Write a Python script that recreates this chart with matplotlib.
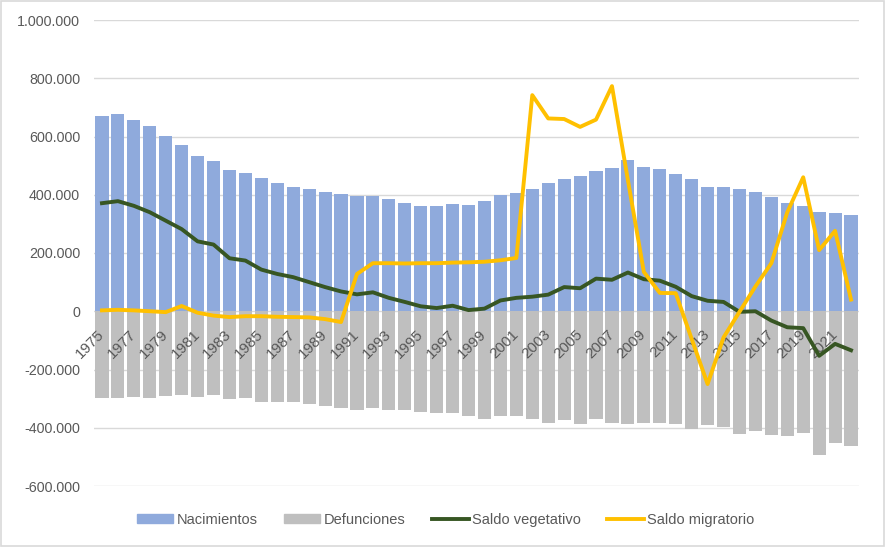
import matplotlib
matplotlib.use("Agg")
import matplotlib.pyplot as plt
from matplotlib.patches import Patch, Rectangle
from matplotlib.lines import Line2D
from matplotlib.ticker import FuncFormatter, MultipleLocator

years = list(range(1975, 2023))

nacimientos = [
    669000, 677000, 656000, 637000, 602000, 571000, 533000, 516000, 485000, 473000,
    456000, 439000, 427000, 419000, 408000, 401000, 396000, 397000, 386000, 370000,
    363000, 363000, 369000, 365000, 380000, 398000, 406000, 419000, 442000, 455000,
    466000, 483000, 493000, 520000, 495000, 487000, 472000, 455000, 426000, 428000,
    420000, 411000, 393000, 373000, 361000, 341000, 339000, 330000,
]

defunciones = [
    -298000, -299000, -294000, -297000, -291000, -289000, -293000, -287000, -303000, -299000,
    -313000, -310000, -310000, -319000, -325000, -333000, -338000, -332000, -340000, -338000,
    -346000, -351000, -350000, -361000, -371000, -360000, -360000, -369000, -385000, -372000,
    -387000, -371000, -385000, -386000, -385000, -382000, -388000, -403000, -390000, -396000,
    -423000, -411000, -425000, -428000, -419000, -494000, -451000, -464000,
]

saldo_vegetativo = [
    371000, 378000, 362000, 340000, 311000, 282000, 240000, 229000, 182000, 174000,
    143000, 128000, 117000, 100000, 83000, 68000, 58000, 65000, 46000, 32000,
    17000, 11000, 19000, 4000, 9000, 37000, 46000, 50000, 57000, 83000,
    79000, 112000, 108000, 133000, 110000, 105000, 84000, 52000, 36000, 32000,
    -2000, 0, -32000, -55000, -58000, -153000, -112000, -134000,
]

saldo_migratorio = [
    3000, 5000, 3000, 0, -3000, 18000, -5000, -15000, -20000, -17000,
    -17000, -19000, -20000, -21000, -27000, -37000, 128000, 165000, 165000, 164000,
    165000, 165000, 167000, 168000, 170000, 175000, 183000, 742000, 662000, 660000,
    633000, 658000, 773000, 450000, 135000, 63000, 62000, -95000, -250000, -90000,
    -2000, 85000, 165000, 340000, 460000, 210000, 276000, 40000,
]

c_nac = "#8FAADC"
c_def = "#BFBFBF"
c_veg = "#375623"
c_mig = "#FFC000"
c_txt = "#595959"
c_grid = "#D9D9D9"

plt.rcParams["font.family"] = ["Liberation Sans", "DejaVu Sans"]

fig = plt.figure(figsize=(8.86, 5.47), dpi=100)
ax = fig.add_axes([94 / 886, 1 - 486 / 547, 765 / 886, 466 / 547])

x = list(range(len(years)))
ax.set_ylim(-600000, 1000000)
ax.yaxis.set_major_locator(MultipleLocator(200000))
# gridlines drawn by hand so the year labels can sit above the bars
for v in range(-600000, 1000001, 200000):
    ax.axhline(v, color=c_grid, lw=1, zorder=0.5)

ax.bar(x, nacimientos, width=0.82, color=c_nac, zorder=1)
ax.bar(x, defunciones, width=0.82, color=c_def, zorder=1)
ax.plot(x, saldo_vegetativo, color=c_veg, lw=2.8, zorder=1.6, solid_joinstyle="round")
ax.plot(x, saldo_migratorio, color=c_mig, lw=2.8, zorder=1.7, solid_joinstyle="round")

ax.set_xlim(-0.5, len(years) - 0.5)
ax.yaxis.set_major_formatter(FuncFormatter(lambda v, p: f"{int(v):,}".replace(",", ".")))

for s in ["top", "right", "left"]:
    ax.spines[s].set_visible(False)
ax.spines["bottom"].set_position(("data", 0))
ax.spines["bottom"].set_visible(False)
ax.xaxis.set_zorder(1.5)  # above the bars, below the lines

ax.set_xticks(x[::2])
ax.set_xticklabels([str(y) for y in years[::2]], rotation=45, ha="right",
                   va="center", rotation_mode="anchor")
ax.tick_params(axis="x", length=0, pad=15, labelsize=11, labelcolor=c_txt)
ax.tick_params(axis="y", length=0, pad=10, labelsize=10.3, labelcolor=c_txt)

handles = [
    Patch(color=c_nac, label="Nacimientos"),
    Patch(color=c_def, label="Defunciones"),
    Line2D([], [], color=c_veg, lw=2.8, label="Saldo vegetativo"),
    Line2D([], [], color=c_mig, lw=2.8, label="Saldo migratorio"),
]
fig.legend(handles=handles, loc="center", bbox_to_anchor=(0.503, 1 - 520 / 547),
           ncol=4, frameon=False, fontsize=10.5, labelcolor=c_txt,
           handlelength=2.5, handleheight=0.6, handletextpad=0.25, columnspacing=1.8)

fig.patches.append(Rectangle((0.001, 0.002), 0.997, 0.996, transform=fig.transFigure,
                             fill=False, edgecolor=c_grid, lw=1.2))

fig.savefig("out.png", dpi=100)
